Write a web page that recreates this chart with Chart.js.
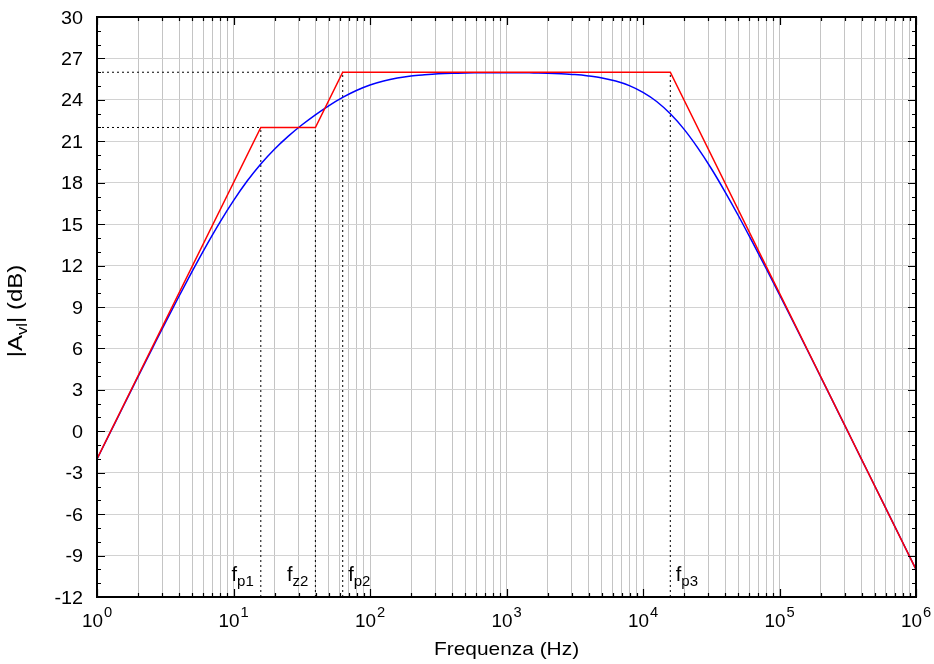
<!DOCTYPE html>
<html><head><meta charset="utf-8">
<script src="https://cdn.jsdelivr.net/npm/chart.js@4.4.0/dist/chart.umd.min.js"></script>
<style>html,body{margin:0;padding:0;background:#fff}#wrap{width:934px;height:664px;position:relative}</style>
</head><body><div id="wrap"><canvas id="c"></canvas></div>
<script>
// ---- data ----
const freqHz = [1,1.259,1.585,1.995,2.512,3.162,3.981,5.012,6.31,7.943,
  10,12.59,15.85,19.95,25.12,31.62,39.81,50.12,63.1,79.43,
  100,125.9,158.5,199.5,251.2,316.2,398.1,501.2,631,794.3,
  1000,1259,1585,1995,2512,3162,3981,5012,6310,7943,
  10000,12589,15849,19953,25119,31623,39811,50119,63096,79433,
  100000,125893,158489,199526,251189,316228,398107,501187,630957,794328,1000000];
const gainDb = [-2.02,-0.03,1.96,3.94,5.90,7.85,9.76,11.63,13.43,15.13,
  16.70,18.12,19.36,20.43,21.36,22.18,22.92,23.59,24.18,24.68,
  25.08,25.37,25.58,25.73,25.82,25.89,25.93,25.95,25.96,25.97,
  25.97,25.97,25.95,25.93,25.89,25.83,25.73,25.59,25.36,25.03,
  24.54,23.88,22.99,21.88,20.54,19.03,17.36,15.59,13.73,11.83,
  9.89,7.93,5.96,3.97,1.98,-0.01,-2.01,-4.00,-6.00,-8.00,-10.00];
const asymFreqHz = [1,15.85,39.81,63.1,15849,1000000];
const asymDb = [-2,22,22,26,26,-10];
const markerNames = ['p1','z2','p2','p3'];
const markerFreqHz = [15.85,39.81,63.1,15849];
const markerDb = [22,22,26,26];
const yTickValues = [-12,-9,-6,-3,0,3,6,9,12,15,18,21,24,27,30];
const yTickLabels = ['-12','-9','-6','-3','0','3','6','9','12','15','18','21','24','27','30'];
const decadeExponents = ['0','1','2','3','4','5','6'];
const xTitle = 'Frequenza (Hz)';
const yTitleParts = ['|A','vl','| (dB)'];

// ---- layout / style ----
const FONT = '"Liberation Sans", Arial, Helvetica, sans-serif';
const labelSide = ['left','left','right','right'];
const Y_MIN = yTickValues[0], Y_MAX = yTickValues[yTickValues.length-1];
const X_MIN = Math.pow(10, +decadeExponents[0]), X_MAX = Math.pow(10, +decadeExponents[decadeExponents.length-1]);

const gridFreqs = [];
for (let e = +decadeExponents[0]; e < +decadeExponents[decadeExponents.length-1]; e++) {
  for (let m = 1; m <= 9; m++) gridFreqs.push(m * Math.pow(10, e));
}
gridFreqs.push(X_MAX);

const zip = (xs, ys) => xs.map((x, i) => ({x, y: ys[i]}));

const dotted = {borderColor:'#000', borderWidth:1, borderDash:[2,3], pointRadius:0, fill:false, tension:0};
const refDatasets = [];
markerFreqHz.forEach((f, i) => {
  refDatasets.push(Object.assign({label:'v'+i, data:[{x:f,y:Y_MIN},{x:f,y:markerDb[i]}]}, dotted));
});
[...new Set(markerDb)].forEach(level => {
  const f = markerFreqHz[markerDb.indexOf(level)];
  refDatasets.push(Object.assign({label:'h'+level, data:[{x:X_MIN,y:level},{x:f,y:level}]}, dotted));
});

function setFont(ctx, size){ ctx.font = size + 'px ' + FONT; }
function richWidth(ctx, parts){
  let w = 0;
  for (const p of parts){ setFont(ctx, p.size); w += ctx.measureText(p.t).width + (p.gap||0); }
  return w;
}
function drawRich(ctx, parts, x, y, align, sx, baseline){
  sx = sx || 1;
  const w = richWidth(ctx, parts) * sx;
  let cx = align === 'center' ? x - w/2 : (align === 'right' ? x - w : x);
  ctx.save();
  ctx.textAlign = 'left'; ctx.textBaseline = baseline || 'alphabetic'; ctx.fillStyle = '#000';
  for (const p of parts){
    setFont(ctx, p.size);
    cx += (p.gap||0) * sx;
    ctx.save(); ctx.translate(cx, y + (p.dy||0)); ctx.scale(sx, 1); ctx.fillText(p.t, 0, 0); ctx.restore();
    cx += ctx.measureText(p.t).width * sx;
  }
  ctx.restore();
}

const decor = {
  id: 'decor',
  afterDraw(chart){
    const ctx = chart.ctx, a = chart.chartArea, xs = chart.scales.x, ys = chart.scales.y;
    ctx.save();
    // inward ticks
    ctx.strokeStyle = '#000'; ctx.lineWidth = 1.2;
    ctx.beginPath();
    gridFreqs.forEach(v => {
      const px = Math.round(xs.getPixelForValue(v)) + 0.5;
      const major = Math.abs(Math.log10(v) - Math.round(Math.log10(v))) < 1e-9;
      const L = major ? 8 : 4;
      ctx.moveTo(px, a.bottom); ctx.lineTo(px, a.bottom - L);
      ctx.moveTo(px, a.top); ctx.lineTo(px, a.top + L);
    });
    for (let v = Y_MIN; v <= Y_MAX; v++) {
      const py = Math.round(ys.getPixelForValue(v)) + 0.5;
      const L = (v % 3 === 0) ? 8 : 4;
      ctx.moveTo(a.left, py); ctx.lineTo(a.left + L, py);
      ctx.moveTo(a.right, py); ctx.lineTo(a.right - L, py);
    }
    ctx.stroke();
    // frame
    ctx.lineWidth = 2;
    ctx.strokeRect(a.left, a.top, a.right - a.left, a.bottom - a.top);
    // y tick labels
    yTickValues.forEach((v, i) => {
      const py = ys.getPixelForValue(v);
      drawRich(ctx, [{t:yTickLabels[i], size:18}], a.left - 14, py + 6.5, 'right', 1.1);
    });
    // x tick labels 10^n
    decadeExponents.forEach(e => {
      const px = xs.getPixelForValue(Math.pow(10, +e));
      drawRich(ctx, [{t:'10', size:18}, {t:e, size:14, dy:-10, gap:1}], px, a.bottom + 30, 'center', 1.05);
    });
    // axis titles
    drawRich(ctx, [{t:xTitle, size:19}], (a.left + a.right)/2, a.bottom + 58, 'center', 1.1);
    ctx.save();
    ctx.translate(a.left - 75, (a.top + a.bottom)/2 + 4);
    ctx.rotate(-Math.PI/2);
    drawRich(ctx, [{t:yTitleParts[0], size:20}, {t:yTitleParts[1], size:14, dy:5}, {t:yTitleParts[2], size:20}], 0, 0, 'center', 1.2);
    ctx.restore();
    // marker labels
    markerNames.forEach((n, i) => {
      const px = xs.getPixelForValue(markerFreqHz[i]);
      const parts = [{t:'f', size:20}, {t:n, size:15, dy:5}];
      if (labelSide[i] === 'left') drawRich(ctx, parts, px - 7, a.bottom - 16, 'right');
      else drawRich(ctx, parts, px + 5.5, a.bottom - 16, 'left');
    });
    ctx.restore();
  }
};

new Chart(document.getElementById('c'), {
  type: 'line',
  data: {
    datasets: [
      {label:'asintotico', data: zip(asymFreqHz, asymDb), borderColor:'#ff0000', borderWidth:1.5, pointRadius:0, fill:false, tension:0},
      {label:'|Avl|', data: zip(freqHz, gainDb), borderColor:'#0000ff', borderWidth:1.5, pointRadius:0, fill:false, cubicInterpolationMode:'monotone'},
      ...refDatasets
    ]
  },
  options: {
    responsive: true, maintainAspectRatio: false, animation: false,
    devicePixelRatio: 1,
    layout: {padding: {top:17, right:18, left:0, bottom:0}},
    plugins: {legend:{display:false}, tooltip:{enabled:false}},
    scales: {
      x: {
        type:'logarithmic', min:X_MIN, max:X_MAX,
        afterBuildTicks: s => { s.ticks = gridFreqs.map(v => ({value:v})); },
        afterFit: s => { s.height = 67; },
        ticks: {display:false},
        grid: {color:'#c4c4c4', lineWidth:1, drawTicks:false},
        border: {display:false}
      },
      y: {
        type:'linear', min:Y_MIN, max:Y_MAX,
        afterBuildTicks: s => { s.ticks = yTickValues.map(v => ({value:v})); },
        afterFit: s => { s.width = 97; },
        ticks: {display:false},
        grid: {color:'#d2d2d2', lineWidth:1, drawTicks:false},
        border: {display:false}
      }
    }
  },
  plugins: [decor]
});
</script></body></html>
